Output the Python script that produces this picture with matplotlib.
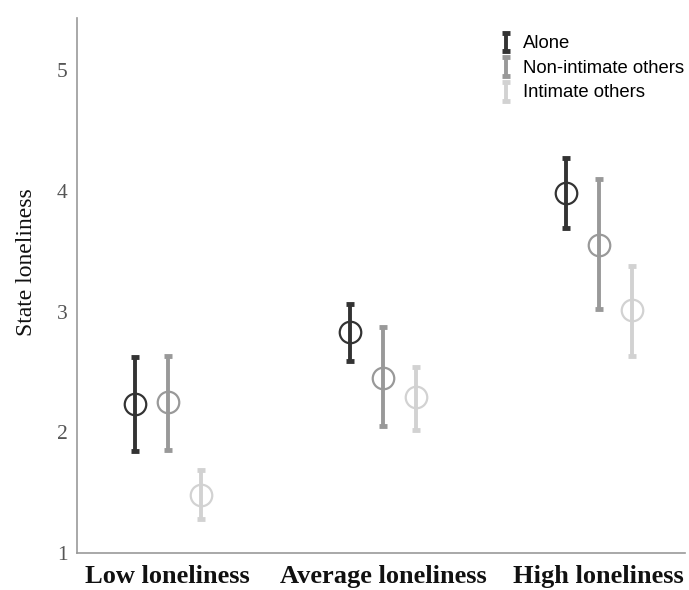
import numpy as np
import matplotlib.pyplot as plt

# values
groups = ['Low loneliness', 'Average loneliness', 'High loneliness']
series = ['Alone', 'Non-intimate others', 'Intimate others']
means = [[2.23, 2.83, 3.98],
         [2.25, 2.45, 3.55],
         [1.48, 2.29, 3.01]]
upper = [[2.62, 3.06, 4.27],
         [2.63, 2.87, 4.10],
         [1.69, 2.54, 3.38]]
lower = [[1.84, 2.59, 3.69],
         [1.85, 2.05, 3.02],
         [1.28, 2.02, 2.63]]
colors = ['#333333', '#999999', '#d2d2d2']
offsets = [-0.153, 0, 0.153]

fig = plt.figure(figsize=(6.89, 5.9), dpi=100)
ax = fig.add_axes([0.112, 0.063, 0.882, 0.906])

x = np.arange(len(groups))
for i in range(3):
    m = np.array(means[i])
    err = [m - np.array(lower[i]), np.array(upper[i]) - m]
    ax.errorbar(x + offsets[i], m, yerr=err, fmt='none', ecolor=colors[i],
                elinewidth=2.8, capsize=3, capthick=3.5, label=series[i])
    ax.plot(x + offsets[i], m, 'o', ms=15.5, mfc='none', mec=colors[i], mew=1.6)

ax.set_xlim(-0.42, 2.40)
ax.set_ylim(1, 5.43)
ax.set_yticks([1, 2, 3, 4, 5])
ax.set_xticks(x)
ax.set_xticklabels(groups, fontfamily='Liberation Serif', fontweight='bold',
                   fontsize=19, color='#111111')
for t in ax.get_yticklabels():
    t.set_fontfamily('Liberation Serif')
    t.set_fontsize(15.5)
    t.set_color('#555555')
ax.tick_params(axis='both', length=0)
ax.tick_params(axis='y', pad=7)
ax.tick_params(axis='x', pad=9)
ax.set_ylabel('State loneliness', fontfamily='Liberation Serif', fontsize=17,
              color='#111111')
ax.yaxis.set_label_coords(-0.066, 0.544)

for s in ['top', 'right']:
    ax.spines[s].set_visible(False)
for s in ['left', 'bottom']:
    ax.spines[s].set_color('#999999')
    ax.spines[s].set_linewidth(1.2)

leg = ax.legend(loc='upper right', frameon=False, bbox_to_anchor=(1.026, 1.0),
                prop={'family': 'Liberation Sans', 'size': 13.3},
                handlelength=0.6, handleheight=0.55, handletextpad=0.6,
                labelspacing=0.42)

fig.savefig('out.png', dpi=100)
